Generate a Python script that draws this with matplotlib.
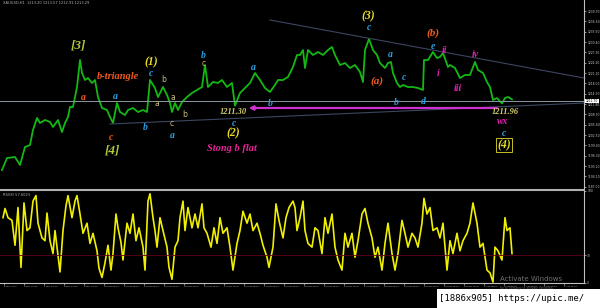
import matplotlib
matplotlib.use("Agg")
import matplotlib.pyplot as plt
from matplotlib.lines import Line2D
from matplotlib.patches import Rectangle

# price path (bar index ~ one bar per pixel)
price_bar = [2, 7, 15, 20, 25, 30, 33, 37, 40, 45,
             50, 53, 58, 62, 65, 68, 70, 73, 77, 80,
             82, 85, 88, 92, 95, 98, 102, 107, 110, 113,
             117, 120, 125, 128, 133, 138, 143, 147, 150, 155,
             158, 163, 167, 170, 172, 175, 178, 182, 187, 192,
             197, 202, 205, 208, 213, 218, 222, 227, 232, 235,
             240, 245, 250, 255, 260, 265, 270, 275, 278, 283,
             288, 293, 297, 300, 303, 305, 308, 313, 318, 323,
             328, 332, 335, 340, 345, 350, 355, 360, 363, 365,
             369, 373, 377, 380, 385, 388, 391, 393, 397, 400,
             403, 408, 413, 418, 423, 424, 428, 433, 437, 440,
             443, 448, 450, 455, 460, 465, 470, 475, 478, 483,
             487, 490, 493, 497, 502, 505, 508, 512]
price_val = [1192.0, 1195.6, 1195.9, 1193.5, 1198.9, 1199.5, 1204.0, 1207.6, 1206.1, 1207.0,
             1206.4, 1204.9, 1207.0, 1203.4, 1206.1, 1207.9, 1210.9, 1210.9, 1216.9, 1225.0,
             1221.1, 1219.0, 1219.6, 1218.1, 1219.0, 1213.9, 1210.6, 1210.0, 1207.9, 1206.1,
             1212.1, 1209.4, 1208.5, 1210.0, 1210.6, 1209.4, 1210.0, 1209.4, 1219.0, 1216.6,
             1213.9, 1216.9, 1214.5, 1212.1, 1209.4, 1212.1, 1210.0, 1212.4, 1213.9, 1215.1,
             1216.0, 1216.9, 1223.5, 1216.9, 1218.4, 1218.1, 1219.0, 1216.9, 1218.1, 1211.3,
             1215.1, 1216.6, 1218.1, 1221.1, 1219.0, 1216.6, 1215.4, 1217.5, 1219.0, 1219.0,
             1219.9, 1222.9, 1226.5, 1226.5, 1228.0, 1222.6, 1228.0, 1226.5, 1227.4, 1226.5,
             1228.0, 1228.9, 1226.5, 1223.5, 1224.1, 1222.6, 1223.5, 1221.4, 1218.4, 1228.0,
             1231.3, 1228.0, 1226.5, 1224.1, 1222.6, 1224.1, 1224.4, 1221.1, 1218.1, 1216.9,
             1217.5, 1216.9, 1216.9, 1216.6, 1216.0, 1225.0, 1225.0, 1227.4, 1225.6, 1225.9,
             1227.1, 1222.9, 1223.5, 1222.6, 1219.6, 1220.5, 1220.5, 1224.4, 1222.0, 1221.1,
             1218.4, 1216.9, 1213.0, 1213.6, 1211.96, 1213.6, 1213.9, 1213.2]

# oscillator (0-100)
osc_bar = [3, 5, 8, 12, 15, 18, 21, 24, 27, 30,
           33, 36, 38, 42, 45, 47, 50, 53, 55, 57,
           60, 63, 66, 68, 72, 75, 77, 80, 83, 87,
           90, 93, 97, 99, 102, 105, 108, 111, 113, 116,
           118, 121, 123, 127, 130, 133, 136, 139, 143, 145,
           148, 150, 153, 155, 157, 160, 163, 167, 169, 172,
           175, 178, 180, 183, 185, 188, 192, 195, 198, 202,
           204, 207, 211, 214, 217, 220, 223, 227, 230, 233,
           237, 240, 243, 247, 250, 253, 257, 260, 263, 267,
           269, 273, 276, 279, 283, 286, 289, 293, 295, 297,
           300, 303, 305, 308, 312, 315, 318, 322, 325, 328,
           332, 335, 338, 342, 345, 348, 352, 355, 358, 362,
           365, 368, 372, 375, 378, 382, 385, 388, 392, 395,
           398, 402, 405, 408, 412, 415, 418, 422, 424, 427,
           430, 433, 437, 440, 443, 447, 450, 453, 457, 460,
           463, 467, 470, 473, 477, 480, 483, 487, 490, 493,
           495, 498, 502, 505, 507, 510, 512]
osc_val = [71, 81, 71, 68, 41, 82, 17, 87, 57, 60,
           89, 95, 65, 49, 46, 76, 46, 32, 57, 39,
           12, 57, 84, 95, 71, 89, 95, 75, 54, 65,
           43, 54, 35, 16, 6, 22, 41, 14, 32, 75,
           60, 44, 25, 65, 54, 75, 46, 60, 39, 14,
           89, 97, 71, 57, 39, 71, 57, 39, 17, 4,
           39, 46, 71, 89, 57, 82, 60, 75, 60, 86,
           60, 54, 39, 60, 43, 71, 54, 60, 39, 14,
           43, 57, 78, 65, 75, 57, 65, 54, 41, 28,
           17, 39, 86, 68, 49, 71, 82, 89, 82, 57,
           71, 89, 57, 43, 39, 60, 57, 32, 71, 54,
           75, 39, 25, 14, 54, 39, 54, 28, 46, 75,
           81, 65, 49, 28, 39, 14, 43, 65, 32, 14,
           32, 68, 54, 39, 54, 49, 39, 65, 92, 75,
           82, 57, 60, 49, 65, 14, 46, 32, 54, 35,
           46, 54, 65, 87, 65, 39, 43, 14, 11, 1,
           39, 35, 25, 71, 57, 60, 32]

price_ticks = [1187.0 + 3.1 * k for k in range(18)]
bid = 1212.70
time_labels = ["6 Mar 2017", "6 Mar 20:00", "7 Mar 16:00", "8 Mar 12:00", "9 Mar 08:00",
               "10 Mar 04:00", "13 Mar 08:00", "14 Mar 04:00", "15 Mar 00:00", "15 Mar 20:00",
               "16 Mar 16:00", "17 Mar 12:00", "20 Mar 08:00", "21 Mar 04:00", "22 Mar 00:00",
               "22 Mar 20:00", "23 Mar 16:00", "24 Mar 12:00", "27 Mar 08:00", "28 Mar 04:00",
               "29 Mar 00:00", "29 Mar 20:00", "30 Mar 16:00", "31 Mar 12:00", "3 Apr 08:00",
               "4 Apr 04:00", "5 Apr 00:00", "5 Apr 20:00", "6 Apr 16:00"]


def py(ypx):
    # pixel row of the main panel -> price
    return 1211.5 + (105 - ypx) * 0.3


yellow = '#e6dc28'
khaki = '#b4c83c'
orange = '#f05a1e'
blue = '#2a9fe0'
magenta = '#e020b0'
small = '#c8be82'
pale = '#d8d070'
serif = 'Liberation Serif'

fig = plt.figure(figsize=(6, 3.08), dpi=100, facecolor='black')
ax = fig.add_axes([0, 0.3896, 0.9733, 0.6104], facecolor='black')
ax2 = fig.add_axes([0, 0.0812, 0.9733, 0.2987], facecolor='black')

# ---- main price panel
ax.plot(price_bar, price_val, color='#14b814', lw=1.3)
ax.axhline(bid, color='#8a96a0', lw=0.7)
ax.plot([110, 584], [py(124), py(103)], color='#3c4660', lw=0.8)
ax.plot([270, 584], [py(20), py(78)], color='#3c4660', lw=0.8)
ax.annotate('', xy=(246, py(108)), xytext=(500, py(108)),
            arrowprops=dict(arrowstyle='-|>', color='#d030d0', lw=1.6,
                            mutation_scale=6))

ax.set_xlim(0, 584)
ax.set_ylim(py(188), py(0))
ax.set_xticks([])
ax.yaxis.tick_right()
ax.set_yticks(price_ticks)
ax.set_yticklabels([f'{v:.2f}' for v in price_ticks])
ax.tick_params(axis='y', colors='#c8c8c8', labelsize=2.2, length=1.5, width=0.5, pad=0.8)
for s in ['top', 'left', 'bottom']:
    ax.spines[s].set_visible(False)
ax.spines['right'].set_color('#c0c0c0')
ax.text(1.003, bid, f'{bid:.2f}', transform=ax.get_yaxis_transform(), fontsize=2.2,
        color='black', va='center', ha='left',
        bbox=dict(boxstyle='square,pad=0.15', fc='white', ec='none'))
ax.text(3, py(3), 'XAUUSD,H1  1213.20 1213.57 1212.91 1213.29', fontsize=2.6,
        color='#b0b0b0', va='center')

labels = [
    (78, 45, '[3]', khaki, 9.5),
    (112, 150, '[4]', khaki, 9.5),
    (151, 62, '(1)', yellow, 8.5),
    (233, 133, '(2)', yellow, 8.5),
    (368, 16, '(3)', yellow, 8.5),
    (118, 76, 'b-triangle', orange, 7.5),
    (83, 97, 'a', orange, 7),
    (111, 137, 'c', orange, 7),
    (377, 81, '(a)', orange, 8),
    (433, 33, '(b)', orange, 8),
    (115, 96, 'a', blue, 7),
    (151, 73, 'c', blue, 7),
    (145, 127, 'b', blue, 7),
    (172, 135, 'a', blue, 7),
    (203, 55, 'b', blue, 7),
    (253, 67, 'a', blue, 7),
    (270, 103, 'b', blue, 7),
    (234, 123, 'c', blue, 7),
    (369, 27, 'c', blue, 7),
    (390, 54, 'a', blue, 7),
    (404, 77, 'c', blue, 7),
    (396, 102, 'b', blue, 7),
    (423, 101, 'd', blue, 7),
    (433, 46, 'e', blue, 7),
    (504, 133, 'c', blue, 7),
    (445, 50, 'ii', magenta, 7),
    (438, 73, 'i', magenta, 7),
    (458, 88, 'iii', magenta, 7),
    (475, 54, 'iv', magenta, 7),
    (503, 121, 'wx', magenta, 7),
    (232, 148, 'Stong b flat', '#e8209a', 7.5),
    (233, 112, '1211.30', pale, 6),
    (505, 112, '1211.96', pale, 6),
]
for x, y, s, col, fs in labels:
    ax.text(x, py(y), s, color=col, fontsize=fs, family=serif, style='italic',
            weight='bold', ha='center', va='center')

for x, y, s in [(164, 79, 'b'), (157, 103, 'a'), (173, 97, 'a'), (172, 123, 'c'),
                (185, 114, 'b'), (204, 63, 'c')]:
    ax.text(x, py(y), s, color=small, fontsize=5.5, ha='center', va='center')

ax.text(504, py(145), '(4)', color=yellow, fontsize=8.5, family=serif, style='italic',
        weight='bold', ha='center', va='center',
        bbox=dict(boxstyle='square,pad=0.1', fc='none', ec=yellow, lw=0.6))

# ---- oscillator panel
ax2.plot(osc_bar, osc_val, color='#f0f000', lw=1.2)
ax2.axhline(30, color='#600018', lw=0.6)
ax2.set_xlim(0, 584)
ax2.set_ylim(0, 100)
ax2.yaxis.tick_right()
ax2.set_yticks([0, 30, 100])
ax2.set_yticklabels(['0', '30', '100'])
ax2.tick_params(axis='y', colors='#c8c8c8', labelsize=2.2, length=1.5, width=0.5, pad=0.8)
tick_pos = [4 + 20 * k for k in range(len(time_labels))]
ax2.set_xticks(tick_pos)
ax2.set_xticklabels(time_labels)
ax2.tick_params(axis='x', colors='#c8c8c8', labelsize=1.65, length=1.2, width=0.5, pad=0.8)
for lab in ax2.get_xticklabels():
    lab.set_ha('left')
ax2.spines['top'].set_visible(False)
ax2.spines['left'].set_visible(False)
ax2.spines['right'].set_color('#c0c0c0')
ax2.spines['bottom'].set_color('#c0c0c0')
ax2.text(3, 96, 'RSI(8) 57.6023', fontsize=2.6, color='#b0b0b0', va='center')
ax2.text(500, 4, 'Activate Windows', fontsize=5, color='#707070', va='center')

# separator between panels
fig.add_artist(Line2D([0, 0.9733], [0.3847, 0.3847], color='#b0b0b0', lw=1.5))
fig.text(500 / 600, 1 - 288 / 308, 'Go to Settings to activate Windows.', fontsize=2.2,
         color='#606060', va='center')

# watermark
fig.add_artist(Rectangle((437 / 600, 0), 163 / 600, 19 / 308, transform=fig.transFigure,
                         fc='white', ec='none'))
fig.text(439 / 600, 9.5 / 308, '[1886x905] https://upic.me/', fontsize=6.5,
         family='DejaVu Sans Mono', color='black', va='center')

fig.savefig('out.png', dpi=100, facecolor='black')
